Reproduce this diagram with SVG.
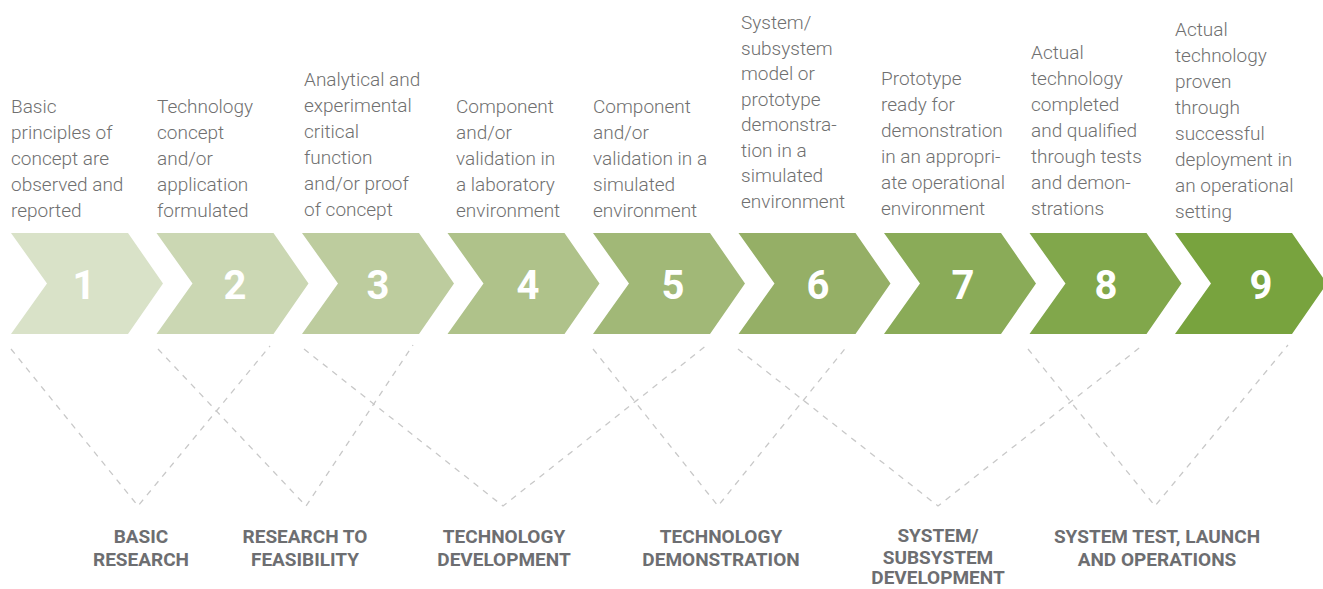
<svg xmlns="http://www.w3.org/2000/svg" width="1323" height="589" viewBox="0 0 1323 589">
<style>
.desc{font-family:Roboto,"Liberation Sans",sans-serif;font-weight:300;font-size:19px;fill:#707070}
.num{font-family:Roboto,"Liberation Sans",sans-serif;font-weight:700;font-size:40px;fill:#ffffff;text-anchor:middle}
.lab{font-family:Roboto,"Liberation Sans",sans-serif;font-weight:700;font-size:19px;fill:#6d6e71;text-anchor:middle}
.dash{fill:none;stroke:#c8c8c8;stroke-width:1.3;stroke-dasharray:6 6}
</style>
<defs>
<path id="chev" d="M0,0 H117 L152,50.5 L117,101 H0 L36,50.5 Z"/>
</defs>
<rect width="1323" height="589" fill="#ffffff"/>
<g id="connectors">
<polyline class="dash" points="11,349 138,506 270,346"/>
<polyline class="dash" points="158,349 306,506 413,345"/>
<polyline class="dash" points="304,349 503,506 707,345"/>
<polyline class="dash" points="593,349 718,506 848,345"/>
<polyline class="dash" points="738,349 938,506 1143,345"/>
<polyline class="dash" points="1028,349 1155,506 1288,345"/>
</g>
<g id="step1"><use href="#chev" x="11" y="233" fill="#d9e2c8"/><text class="num" x="84" y="299">1</text>
<text class="desc" x="11" y="113">Basic<tspan x="11" dy="26">principles of</tspan><tspan x="11" dy="26">concept are</tspan><tspan x="11" dy="26">observed and</tspan><tspan x="11" dy="26">reported</tspan></text></g>
<g id="step2"><use href="#chev" x="156.5" y="233" fill="#cbd7b3"/><text class="num" x="235" y="299">2</text>
<text class="desc" x="157" y="113">Technology<tspan x="157" dy="26">concept</tspan><tspan x="157" dy="26">and/or</tspan><tspan x="157" dy="26">application</tspan><tspan x="157" dy="26">formulated</tspan></text></g>
<g id="step3"><use href="#chev" x="302" y="233" fill="#bdcc9e"/><text class="num" x="378" y="299">3</text>
<text class="desc" x="304" y="86">Analytical and<tspan x="304" dy="26">experimental</tspan><tspan x="304" dy="26">critical</tspan><tspan x="304" dy="26">function</tspan><tspan x="304" dy="26">and/or proof</tspan><tspan x="304" dy="26">of concept</tspan></text></g>
<g id="step4"><use href="#chev" x="447.5" y="233" fill="#afc28a"/><text class="num" x="528" y="299">4</text>
<text class="desc" x="456" y="113">Component<tspan x="456" dy="26">and/or</tspan><tspan x="456" dy="26">validation in</tspan><tspan x="456" dy="26">a laboratory</tspan><tspan x="456" dy="26">environment</tspan></text></g>
<g id="step5"><use href="#chev" x="593" y="233" fill="#a1b877"/><text class="num" x="673" y="299">5</text>
<text class="desc" x="593" y="113">Component<tspan x="593" dy="26">and/or</tspan><tspan x="593" dy="26">validation in a</tspan><tspan x="593" dy="26">simulated</tspan><tspan x="593" dy="26">environment</tspan></text></g>
<g id="step6"><use href="#chev" x="738.5" y="233" fill="#95af66"/><text class="num" x="818" y="299">6</text>
<text class="desc" x="741" y="29">System/<tspan x="741" dy="25.5">subsystem</tspan><tspan x="741" dy="25.5">model or</tspan><tspan x="741" dy="25.5">prototype</tspan><tspan x="741" dy="25.5">demonstra-</tspan><tspan x="741" dy="25.5">tion in a</tspan><tspan x="741" dy="25.5">simulated</tspan><tspan x="741" dy="25.5">environment</tspan></text></g>
<g id="step7"><use href="#chev" x="884" y="233" fill="#8aab58"/><text class="num" x="963" y="299">7</text>
<text class="desc" x="881" y="85">Prototype<tspan x="881" dy="26">ready for</tspan><tspan x="881" dy="26">demonstration</tspan><tspan x="881" dy="26">in an appropri-</tspan><tspan x="881" dy="26">ate operational</tspan><tspan x="881" dy="26">environment</tspan></text></g>
<g id="step8"><use href="#chev" x="1029.5" y="233" fill="#81a74b"/><text class="num" x="1106" y="299">8</text>
<text class="desc" x="1031" y="59">Actual<tspan x="1031" dy="26">technology</tspan><tspan x="1031" dy="26">completed</tspan><tspan x="1031" dy="26">and qualified</tspan><tspan x="1031" dy="26">through tests</tspan><tspan x="1031" dy="26">and demon-</tspan><tspan x="1031" dy="26">strations</tspan></text></g>
<g id="step9"><use href="#chev" x="1175" y="233" fill="#78a33e"/><text class="num" x="1261" y="299">9</text>
<text class="desc" x="1175" y="36">Actual<tspan x="1175" dy="26">technology</tspan><tspan x="1175" dy="26">proven</tspan><tspan x="1175" dy="26">through</tspan><tspan x="1175" dy="26">successful</tspan><tspan x="1175" dy="26">deployment in</tspan><tspan x="1175" dy="26">an operational</tspan><tspan x="1175" dy="26">setting</tspan></text></g>
<g id="phase1"><text class="lab" x="141" y="543">BASIC<tspan x="141" dy="23">RESEARCH</tspan></text></g>
<g id="phase2"><text class="lab" x="305" y="543">RESEARCH TO<tspan x="305" dy="23">FEASIBILITY</tspan></text></g>
<g id="phase3"><text class="lab" x="504" y="543">TECHNOLOGY<tspan x="504" dy="23">DEVELOPMENT</tspan></text></g>
<g id="phase4"><text class="lab" x="721" y="543">TECHNOLOGY<tspan x="721" dy="23">DEMONSTRATION</tspan></text></g>
<g id="phase5"><text class="lab" x="938" y="542">SYSTEM/<tspan x="938" dy="21.5">SUBSYSTEM</tspan><tspan x="938" dy="20.5">DEVELOPMENT</tspan></text></g>
<g id="phase6"><text class="lab" x="1157" y="543">SYSTEM TEST, LAUNCH<tspan x="1157" dy="23">AND OPERATIONS</tspan></text></g>
</svg>
